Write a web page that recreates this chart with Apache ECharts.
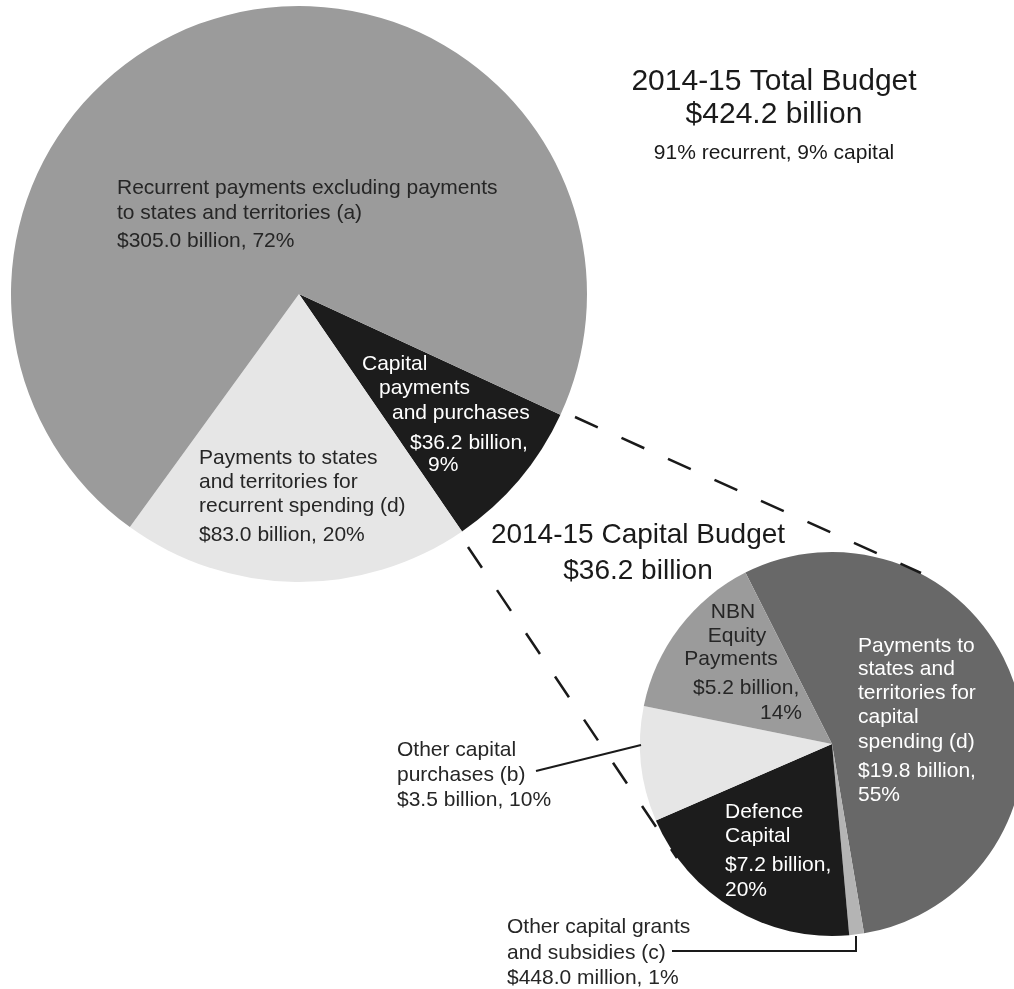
<!DOCTYPE html>
<html>
<head>
<meta charset="utf-8">
<script src="https://cdn.jsdelivr.net/npm/echarts@6/dist/echarts.min.js"></script>
<style>
html,body{margin:0;padding:0;background:#fff;}
#chart{width:1014px;height:989px;}
</style>
</head>
<body>
<div id="chart"></div>
<script>
// ---- Data ----
const totalCategories = ['Capital payments and purchases', 'Payments to states and territories for recurrent spending (d)', 'Recurrent payments excluding payments to states and territories (a)'];
const totalValues = [36.2, 83.0, 305.0];          // $ billion
const totalPercents = [9, 20, 72];
const totalColors = ['#1c1c1c', '#e6e6e6', '#9b9b9b'];

const capitalCategories = ['Payments to states and territories for capital spending (d)', 'Other capital grants and subsidies (c)', 'Defence Capital', 'Other capital purchases (b)', 'NBN Equity Payments'];
const capitalValues = [19.8, 0.448, 7.2, 3.5, 5.2]; // $ billion
const capitalPercents = [55, 1, 20, 10, 14];
const capitalColors = ['#686868', '#b4b4b4', '#1c1c1c', '#e6e6e6', '#9b9b9b'];

const totalBudget = 424.2;
const capitalBudget = 36.2;

function money(v) {
  return v < 1 ? '$' + (v * 1000).toFixed(1) + ' million' : '$' + v.toFixed(1) + ' billion';
}

// ---- Layout ----
const FONT = '"Liberation Sans", Arial, Helvetica, sans-serif';
const DARK = '#262626';
const bigC = [299, 294], bigR = 288, bigStart = -24.8;
const smallC = [832, 744], smallR = 192, smallStart = 116.8;

const graphics = [];
function txt(text, x, y, size, fill, align) {
  graphics.push({
    type: 'text', z: 10, silent: true,
    style: { text: text, x: x, y: y, font: size + 'px ' + FONT, fill: fill,
             align: align || 'left', verticalAlign: 'middle' }
  });
}
function line(points, width, dash) {
  graphics.push({
    type: 'polyline', z: 9, silent: true,
    shape: { points: points },
    style: { stroke: '#1a1a1a', lineWidth: width, fill: null, lineDash: dash || null }
  });
}

// Titles
txt('2014-15 Total Budget', 774, 82, 30, '#1a1a1a', 'center');
txt(money(totalBudget), 774, 115, 30, '#1a1a1a', 'center');
txt('91% recurrent, 9% capital', 774, 153, 21, '#1a1a1a', 'center');
txt('2014-15 Capital Budget', 638, 535, 28, '#1a1a1a', 'center');
txt(money(capitalBudget), 638, 571, 28, '#1a1a1a', 'center');

// Big pie labels
const tv = i => money(totalValues[i]) + ', ' + totalPercents[i] + '%';
txt('Recurrent payments excluding payments', 117, 188, 21, DARK);
txt('to states and territories (a)', 117, 213, 21, DARK);
txt(tv(2), 117, 241, 21, DARK);

txt('Payments to states', 199, 458, 21, DARK);
txt('and territories for', 199, 482, 21, DARK);
txt('recurrent spending (d)', 199, 506, 21, DARK);
txt(tv(1), 199, 535, 21, DARK);

txt('Capital', 362, 364, 21, '#fff');
txt('payments', 379, 388, 21, '#fff');
txt('and purchases', 392, 413, 21, '#fff');
txt(money(totalValues[0]) + ',', 410, 443, 21, '#fff');
txt(totalPercents[0] + '%', 428, 465, 21, '#fff');

// Small pie labels
const cv = i => money(capitalValues[i]);
txt('Payments to', 858, 646, 21, '#fff');
txt('states and', 858, 669, 21, '#fff');
txt('territories for', 858, 693, 21, '#fff');
txt('capital', 858, 717, 21, '#fff');
txt('spending (d)', 858, 742, 21, '#fff');
txt(cv(0) + ',', 858, 771, 21, '#fff');
txt(capitalPercents[0] + '%', 858, 795, 21, '#fff');

txt('NBN', 733, 612, 21, DARK, 'center');
txt('Equity', 737, 636, 21, DARK, 'center');
txt('Payments', 731, 659, 21, DARK, 'center');
txt(cv(4) + ',', 693, 688, 21, DARK);
txt(capitalPercents[4] + '%', 802, 713, 21, DARK, 'right');

txt('Defence', 725, 812, 21, '#fff');
txt('Capital', 725, 836, 21, '#fff');
txt(cv(2) + ',', 725, 865, 21, '#fff');
txt(capitalPercents[2] + '%', 725, 890, 21, '#fff');

txt('Other capital', 397, 750, 21, DARK);
txt('purchases (b)', 397, 775, 21, DARK);
txt(cv(3) + ', ' + capitalPercents[3] + '%', 397, 800, 21, DARK);
line([[536, 771], [641, 745]], 2);

txt('Other capital grants', 507, 927, 21, DARK);
txt('and subsidies (c)', 507, 953, 21, DARK);
txt(cv(1) + ', ' + capitalPercents[1] + '%', 507, 978, 21, DARK);
line([[672, 951], [856, 951], [856, 936]], 2);

// Dashed connectors between the pies
line([[575, 417], [921, 573]], 2.5, [25, 26]);
line([[468, 547], [677, 858]], 2.5, [25, 27]);

function pieData(names, values, colors) {
  return names.map((n, i) => ({ name: n, value: values[i], itemStyle: { color: colors[i] } }));
}

const chart = echarts.init(document.getElementById('chart'), null, { renderer: 'canvas' });
chart.setOption({
  animation: false,
  backgroundColor: '#ffffff',
  tooltip: { show: false },
  series: [
    {
      type: 'pie', center: bigC, radius: [0, bigR], startAngle: bigStart, clockwise: true,
      silent: true, avoidLabelOverlap: false, minAngle: 0, padAngle: 0,
      label: { show: false }, labelLine: { show: false },
      itemStyle: { borderWidth: 0, borderRadius: 0 },
      emphasis: { disabled: true },
      data: pieData(totalCategories, totalValues, totalColors)
    },
    {
      type: 'pie', center: smallC, radius: [0, smallR], startAngle: smallStart, clockwise: true,
      silent: true, avoidLabelOverlap: false, minAngle: 0, padAngle: 0,
      label: { show: false }, labelLine: { show: false },
      itemStyle: { borderWidth: 0, borderRadius: 0 },
      emphasis: { disabled: true },
      data: pieData(capitalCategories, capitalValues, capitalColors)
    }
  ],
  graphic: { elements: graphics }
});
</script>
</body>
</html>
